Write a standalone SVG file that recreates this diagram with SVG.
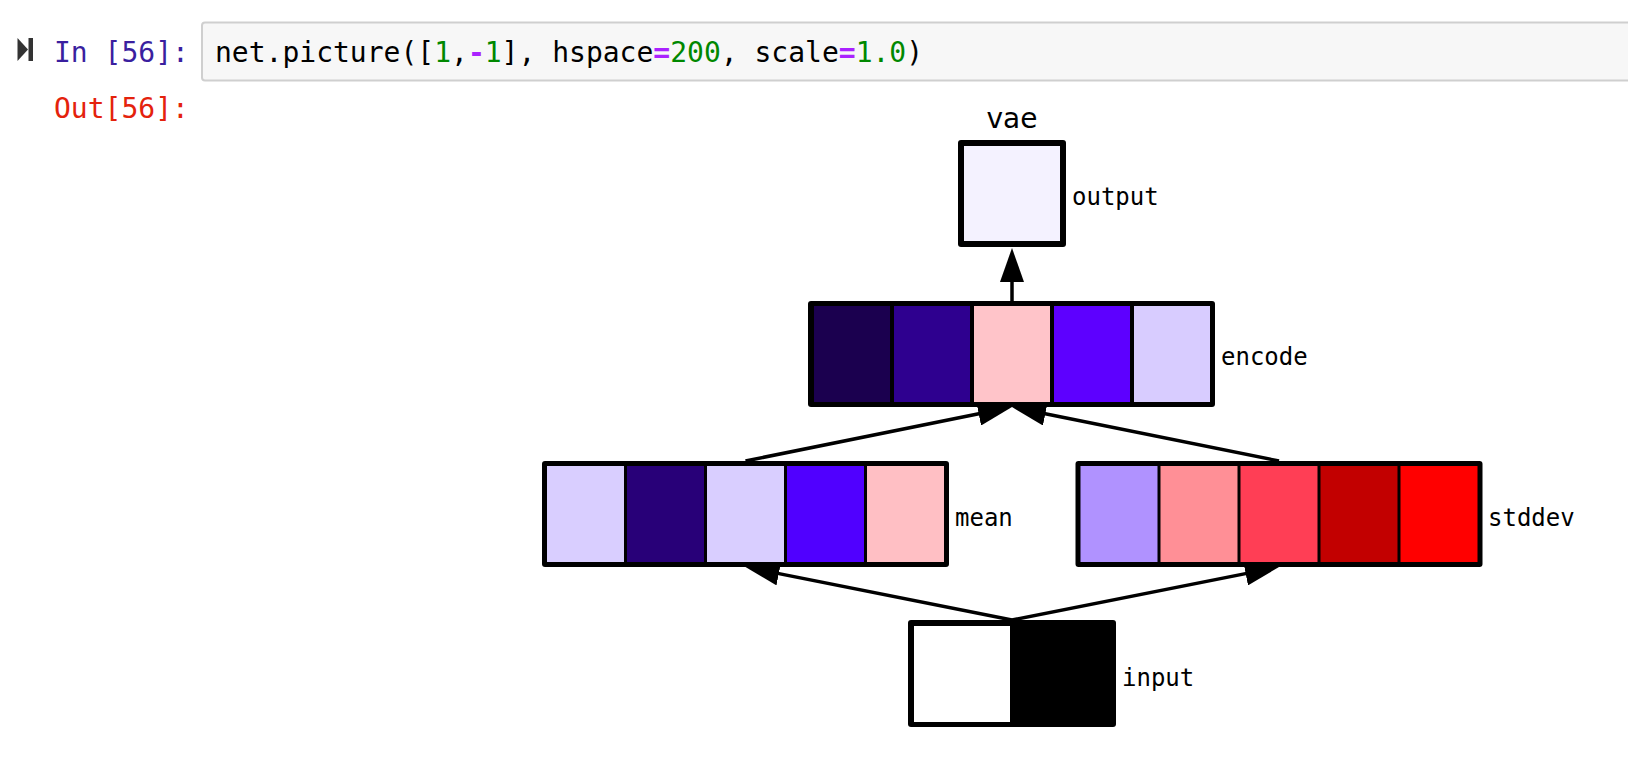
<svg xmlns="http://www.w3.org/2000/svg" width="1628" height="784" viewBox="0 0 1628 784">
<defs>
<style>
.mono{font-family:"DejaVu Sans Mono","Liberation Mono",monospace;}
.code{font-size:28px;fill:#000;}
.lbl{font-size:24px;fill:#000;}
.num{fill:#008800;}
.op{fill:#aa22ff;font-weight:bold;}
.frame{fill:#000;}
.conn{stroke:#000;stroke-width:3.5;fill:none;marker-end:url(#arrow);}
</style>
<marker id="arrow" markerUnits="userSpaceOnUse" markerWidth="34" markerHeight="24" viewBox="0 0 34 24" refX="14" refY="12" orient="auto">
<path d="M0,0 L34,12 L0,24 z" fill="#000"/>
</marker>
</defs>
<rect width="1628" height="784" fill="#fff"/>

<g id="prompt">
<polygon points="17.5,38 28,49.5 17.5,61" fill="#333"/>
<rect x="28.5" y="38" width="4.5" height="23" fill="#333"/>
<text class="mono" x="54" y="62" font-size="28" fill="#3a1f9f">In [56]:</text>
<text class="mono" x="54" y="118" font-size="28" fill="#e4220c">Out[56]:</text>
</g>

<g id="code-cell">
<rect x="202" y="22.5" width="1440" height="58" rx="3" fill="#f7f7f7" stroke="#cfcfcf" stroke-width="2"/>
<text class="mono code" x="215" y="62">net.picture([<tspan class="num">1</tspan>,<tspan class="op">-</tspan><tspan class="num">1</tspan>], hspace<tspan class="op">=</tspan><tspan class="num">200</tspan>, scale<tspan class="op">=</tspan><tspan class="num">1.0</tspan>)</text>
</g>

<text id="title" x="1012" y="128" text-anchor="middle" font-family="DejaVu Sans, Liberation Sans, sans-serif" font-size="28" fill="#000">vae</text>

<g id="connectors">
<line class="conn" x1="1012" y1="301" x2="1012" y2="268"/>
<line class="conn" x1="745.5" y1="461" x2="992.4" y2="411"/>
<line class="conn" x1="1279" y1="461" x2="1031.6" y2="411"/>
<line class="conn" x1="1012" y1="620" x2="765.1" y2="570.9"/>
<line class="conn" x1="1012" y1="620" x2="1259.4" y2="570.9"/>
</g>

<g id="output">
<rect class="frame" x="958" y="140" width="108" height="107" rx="3"/>
<rect x="964" y="146" width="96" height="95" fill="#f4f2ff"/>
<text class="mono lbl" x="1072" y="205">output</text>
</g>

<g id="encode">
<rect class="frame" x="808" y="301" width="407" height="106" rx="3"/>
<rect x="814" y="306" width="76" height="96" fill="#1b004f"/>
<rect x="894" y="306" width="76" height="96" fill="#2e008f"/>
<rect x="974" y="306" width="76" height="96" fill="#ffc4c9"/>
<rect x="1054" y="306" width="76" height="96" fill="#5d00ff"/>
<rect x="1134" y="306" width="76" height="96" fill="#d8ccff"/>
<text class="mono lbl" x="1221" y="365">encode</text>
</g>

<g id="mean">
<rect class="frame" x="542" y="461" width="407" height="106" rx="3"/>
<rect x="547" y="466" width="77" height="96" fill="#d9ceff"/>
<rect x="627" y="466" width="77" height="96" fill="#280078"/>
<rect x="707" y="466" width="77" height="96" fill="#d9ceff"/>
<rect x="787" y="466" width="77" height="96" fill="#5000ff"/>
<rect x="867" y="466" width="77" height="96" fill="#ffbfc4"/>
<text class="mono lbl" x="955" y="526">mean</text>
</g>

<g id="stddev">
<rect class="frame" x="1075.5" y="461" width="407" height="106" rx="3"/>
<rect x="1080.5" y="466" width="77" height="96" fill="#b092ff"/>
<rect x="1160.5" y="466" width="77" height="96" fill="#ff8f96"/>
<rect x="1240.5" y="466" width="77" height="96" fill="#ff3e55"/>
<rect x="1320.5" y="466" width="77" height="96" fill="#c20000"/>
<rect x="1400.5" y="466" width="77" height="96" fill="#ff0000"/>
<text class="mono lbl" x="1488" y="526">stddev</text>
</g>

<g id="input">
<rect class="frame" x="908" y="620" width="208" height="107" rx="3"/>
<rect x="914" y="626" width="96" height="96" fill="#fff"/>
<text class="mono lbl" x="1122" y="686">input</text>
</g>
</svg>
